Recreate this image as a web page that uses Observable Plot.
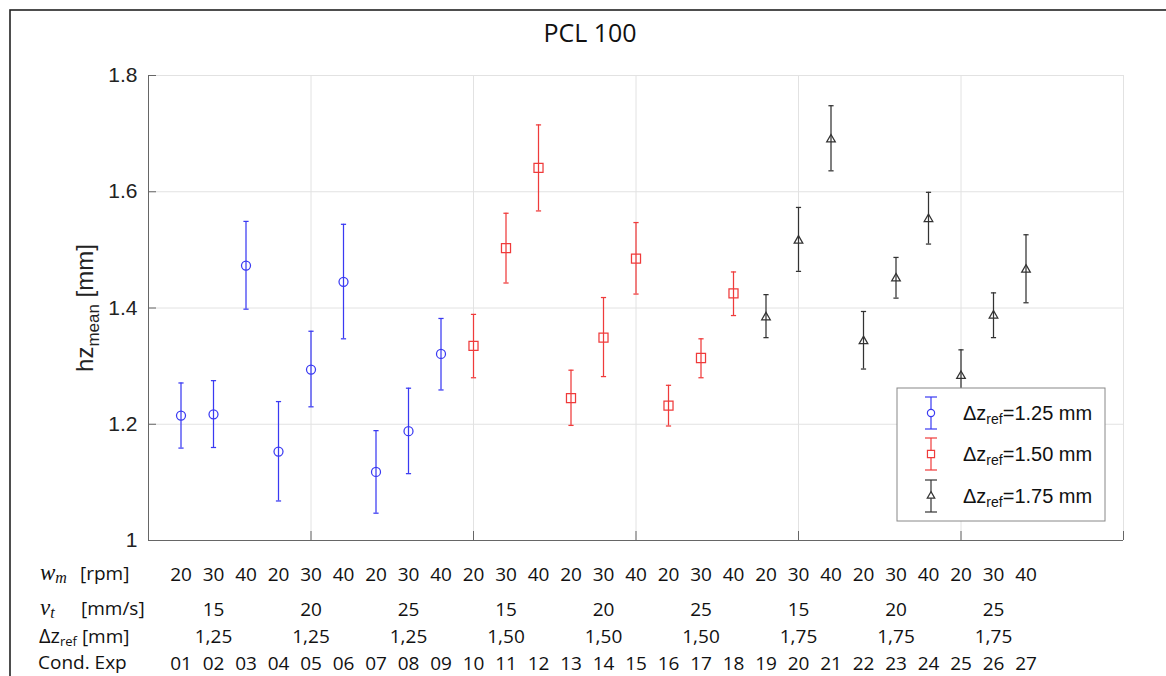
<!DOCTYPE html>
<html><head><meta charset="utf-8">
<script src="https://cdn.jsdelivr.net/npm/d3@7"></script>
<script src="https://cdn.jsdelivr.net/npm/@observablehq/plot@0.6"></script>
<style>html,body{margin:0;padding:0;background:#fff;overflow:hidden}</style>
</head><body><div id="chart"></div>
<script>
// ---- data ----
const conditions = d3.range(1, 28);
const condLabels = ["01","02","03","04","05","06","07","08","09","10","11","12","13","14","15","16","17","18","19","20","21","22","23","24","25","26","27"];
const wmLabels = [20,30,40,20,30,40,20,30,40,20,30,40,20,30,40,20,30,40,20,30,40,20,30,40,20,30,40];
const groupCenters = [2,5,8,11,14,17,20,23,26];
const vtLabels = [15,20,25,15,20,25,15,20,25];
const dzLabels = ["1,25","1,25","1,25","1,50","1,50","1,50","1,75","1,75","1,75"];
const seriesNames = ["1.25","1.50","1.75"];
const seriesOfCond = ["1.25","1.25","1.25","1.25","1.25","1.25","1.25","1.25","1.25",
                      "1.50","1.50","1.50","1.50","1.50","1.50","1.50","1.50","1.50",
                      "1.75","1.75","1.75","1.75","1.75","1.75","1.75","1.75","1.75"];
const hzMean = [1.215,1.217,1.473,1.153,1.294,1.445,1.118,1.188,1.321,
                1.335,1.503,1.641,1.245,1.349,1.485,1.232,1.314,1.425,
                1.384,1.516,1.690,1.343,1.451,1.553,1.283,1.387,1.466];
const hzLow  = [1.159,1.160,1.398,1.068,1.230,1.347,1.047,1.115,1.259,
                1.280,1.443,1.567,1.198,1.282,1.424,1.197,1.280,1.387,
                1.349,1.463,1.636,1.295,1.417,1.510,1.238,1.349,1.409];
const hzHigh = [1.271,1.275,1.549,1.239,1.360,1.544,1.189,1.262,1.382,
                1.389,1.563,1.715,1.293,1.418,1.547,1.267,1.347,1.462,
                1.423,1.573,1.748,1.394,1.487,1.599,1.328,1.426,1.526];
const yTicks = [1, 1.2, 1.4, 1.6, 1.8];
const xGridTicks = [5, 10, 15, 20, 25, 30];
const seriesColors = ["#3a3af2", "#ef3b3b", "#333333"];
const seriesSymbols = ["circle", "square", "triangle"];
const seriesR = [4.5, 5.1, 3.2];

const rows = conditions.map((c, k) => ({c, s: seriesOfCond[k], m: hzMean[k], lo: hzLow[k], hi: hzHigh[k]}));

const capSymbol = {draw(ctx, size) { const w = Math.sqrt(size / Math.PI); ctx.moveTo(-w, 0); ctx.lineTo(w, 0); }};

const tableFont = "Open Sans";
const axisFont = "Liberation Sans";
const tableSize = 19;

const marks = [
  Plot.gridX({ticks: xGridTicks, stroke: "#e2e2e2", strokeOpacity: 1}),
  Plot.gridY({ticks: yTicks.slice(1), stroke: "#e2e2e2", strokeOpacity: 1}),
  Plot.ruleX([0], {stroke: "#666"}),
  Plot.ruleY([1], {stroke: "#666"}),
  Plot.axisY({ticks: yTicks, tickSize: -8, tickFormat: () => "", stroke: "#666", label: null}),
  Plot.axisY({ticks: yTicks, tickSize: 0, tickPadding: 11, tickFormat: d => d3.format("~g")(d), fontSize: 21, fontFamily: axisFont, fill: "#222", label: null}),
  Plot.axisX({ticks: xGridTicks, tickSize: -9, tickFormat: () => "", stroke: "#666", label: null}),
  Plot.axisX({ticks: conditions, tickSize: 0, tickPadding: 26.5, tickFormat: d => wmLabels[d - 1], fontSize: tableSize, fontFamily: tableFont, fill: "#111", label: null}),
  Plot.axisX({ticks: groupCenters, tickSize: 0, tickPadding: 61.5, tickFormat: d => vtLabels[groupCenters.indexOf(d)], fontSize: tableSize, fontFamily: tableFont, fill: "#111", label: null}),
  Plot.axisX({ticks: groupCenters, tickSize: 0, tickPadding: 89, tickFormat: d => dzLabels[groupCenters.indexOf(d)], fontSize: tableSize, fontFamily: tableFont, fill: "#111", label: null}),
  Plot.axisX({ticks: conditions, tickSize: 0, tickPadding: 115.5, tickFormat: d => condLabels[d - 1], fontSize: tableSize, fontFamily: tableFont, fill: "#111", label: null}),
  Plot.ruleX(rows, {x: "c", y1: "lo", y2: "hi", stroke: "s", strokeWidth: 1.25}),
  Plot.dot(rows, {x: "c", y: "lo", symbol: capSymbol, r: 2.6, stroke: "s", strokeWidth: 1.25}),
  Plot.dot(rows, {x: "c", y: "hi", symbol: capSymbol, r: 2.6, stroke: "s", strokeWidth: 1.25})
];
seriesNames.forEach((name, k) => {
  marks.push(Plot.dot(rows.filter(d => d.s === name), {x: "c", y: "m", symbol: seriesSymbols[k], r: seriesR[k], stroke: "s", fill: "none", strokeWidth: 1.25}));
});

const svg = Plot.plot({
  width: 1166, height: 676,
  marginLeft: 148, marginRight: 43, marginTop: 75, marginBottom: 136,
  style: {background: "#fff", fontFamily: axisFont},
  x: {domain: [0, 30], label: null, axis: null},
  y: {domain: [1, 1.8], label: null, axis: null},
  color: {domain: seriesNames, range: seriesColors},
  marks
});
document.getElementById("chart").appendChild(svg);

// ---- annotations (title, labels, legend, frame) ----
const g = d3.select(svg).append("g").attr("text-anchor", "start");
g.append("rect").attr("x", 10).attr("y", 10).attr("width", 1200).attr("height", 700)
  .attr("fill", "none").attr("stroke", "#222").attr("stroke-width", 1.6);

g.append("text").attr("x", 590).attr("y", 42).attr("text-anchor", "middle")
  .attr("font-family", tableFont).attr("font-size", 25).attr("fill", "#111").text("PCL 100");

const yl = g.append("text").attr("transform", "translate(93,308) rotate(-90)")
  .attr("text-anchor", "middle").attr("font-family", axisFont).attr("font-size", 24).attr("fill", "#222");
yl.append("tspan").text("hz");
yl.append("tspan").attr("font-size", 17).attr("dy", 6).text("mean");
yl.append("tspan").attr("dy", -6).text(" [mm]");

// row labels
const serif = "Liberation Serif";
const wl = g.append("text").attr("x", 40).attr("y", 580).attr("font-family", serif).attr("font-style", "italic").attr("font-size", 23).attr("fill", "#111");
wl.append("tspan").text("w");
wl.append("tspan").attr("font-size", 16).attr("dy", 3).text("m");
g.append("text").attr("x", 80).attr("y", 580).attr("font-family", tableFont).attr("font-size", tableSize).attr("fill", "#111").text("[rpm]");

const vl = g.append("text").attr("x", 40).attr("y", 615).attr("font-family", serif).attr("font-style", "italic").attr("font-size", 23).attr("fill", "#111");
vl.append("tspan").text("v");
vl.append("tspan").attr("font-size", 16).attr("dy", 3).text("t");
g.append("text").attr("x", 81).attr("y", 615).attr("font-family", tableFont).attr("font-size", tableSize).attr("fill", "#111").text("[mm/s]");

const dl = g.append("text").attr("x", 39).attr("y", 642.5).attr("font-family", tableFont).attr("font-size", 20).attr("fill", "#111");
dl.append("tspan").text("Δz");
dl.append("tspan").attr("font-size", 13).attr("dy", 3).text("ref");
dl.append("tspan").attr("font-size", tableSize).attr("dy", -3).text(" [mm]");

g.append("text").attr("x", 38).attr("y", 669).attr("font-family", tableFont).attr("font-size", tableSize).attr("fill", "#111").text("Cond. Exp");

// legend
const lg = g.append("g");
lg.append("rect").attr("x", 897).attr("y", 388).attr("width", 208).attr("height", 133)
  .attr("fill", "#fff").attr("stroke", "#888").attr("stroke-width", 1);
const legendY = [413, 454, 496];
seriesNames.forEach((name, k) => {
  const cy = legendY[k], cx = 931, col = seriesColors[k];
  lg.append("line").attr("x1", cx).attr("x2", cx).attr("y1", cy - 16).attr("y2", cy + 16).attr("stroke", col).attr("stroke-width", 1.2);
  [cy - 16, cy + 16].forEach(yy => lg.append("line").attr("x1", cx - 6).attr("x2", cx + 6).attr("y1", yy).attr("y2", yy).attr("stroke", col).attr("stroke-width", 1.2));
  const sym = {circle: d3.symbolCircle, square: d3.symbolSquare, triangle: d3.symbolTriangle}[seriesSymbols[k]];
  const rr = [3.6, 4.0, 2.8][k];
  lg.append("path").attr("transform", `translate(${cx},${cy})`).attr("d", d3.symbol(sym, Math.PI * rr * rr)())
    .attr("fill", "#fff").attr("stroke", col).attr("stroke-width", 1.2);
  const t = lg.append("text").attr("x", 963).attr("y", cy + 7).attr("text-anchor", "start").attr("font-family", axisFont).attr("font-size", 20).attr("fill", "#111");
  t.append("tspan").text("Δz");
  t.append("tspan").attr("font-size", 14).attr("dy", 4).text("ref");
  t.append("tspan").attr("dy", -4).text("=" + name + " mm");
});
</script>
</body></html>
